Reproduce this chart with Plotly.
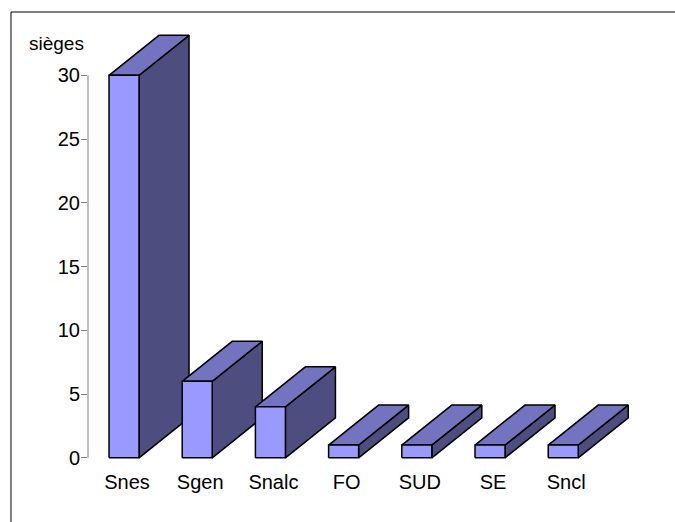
import plotly.graph_objects as go

categories = ["Snes", "Sgen", "Snalc", "FO", "SUD", "SE", "Sncl"]
values = [30, 6, 4, 1, 1, 1, 1]
y_ticks = [0, 5, 10, 15, 20, 25, 30]

# style / geometry constants
BAR_W = 0.41
DX = 0.683
DY = 3.137
FRONT = "#9999FF"
TOP = "#7373BF"
SIDE = "#4D4D7F"
EDGE = dict(color="black", width=1.5)

fig = go.Figure()

for i, v in enumerate(values):
    L, R = i - BAR_W / 2, i + BAR_W / 2
    side_x = [R, R + DX, R + DX, R, R]
    side_y = [0, DY, v + DY, v, 0]
    top_x = [L, R, R + DX, L + DX, L]
    top_y = [v, v, v + DY, v + DY, v]
    front_x = [L, R, R, L, L]
    front_y = [0, 0, v, v, 0]
    for xs, ys, col in ((side_x, side_y, SIDE), (top_x, top_y, TOP), (front_x, front_y, FRONT)):
        fig.add_trace(go.Scatter(x=xs, y=ys, mode="lines", fill="toself",
                                 fillcolor=col, line=EDGE, hoverinfo="skip",
                                 showlegend=False))

fig.update_layout(
    width=675, height=522,
    margin=dict(l=88, r=0, t=32, b=61),
    paper_bgcolor="white", plot_bgcolor="white",
    font=dict(family="Liberation Sans, Arial, sans-serif", color="black", size=20),
    modebar=dict(bgcolor="rgba(0,0,0,0)", color="rgba(0,0,0,0)",
                 activecolor="rgba(0,0,0,0)"),
    xaxis=dict(range=[-0.492, 7.527], tickmode="array",
               tickvals=list(range(len(categories))), ticktext=categories,
               showgrid=False, zeroline=False, showline=False, ticks="",
               ticklabelshift=3, ticklabelstandoff=7, tickfont=dict(size=20)),
    yaxis=dict(range=[-0.25, 33.4], tickmode="array", tickvals=y_ticks,
               ticktext=[str(t) for t in y_ticks],
               showgrid=False, zeroline=False, showline=False,
               ticks="outside", ticklen=6, tickcolor="#808080", tickwidth=1,
               ticklabelstandoff=-3, tickfont=dict(size=20)),
    shapes=[
        dict(type="line", xref="paper", yref="y", x0=0, x1=0, y0=0, y1=30,
             line=dict(color="#808080", width=1)),
        dict(type="line", xref="paper", yref="paper", x0=-0.1312, x1=-0.1312,
             y0=-0.3, y1=1.0466, line=dict(color="black", width=1)),
        dict(type="line", xref="paper", yref="paper", x0=-0.1312, x1=1.1,
             y0=1.0466, y1=1.0466, line=dict(color="black", width=1)),
    ],
    annotations=[
        dict(text="sièges", xref="paper", yref="paper", x=-0.0545, y=0.974,
             xanchor="center", yanchor="middle", showarrow=False,
             font=dict(size=19)),
    ],
)

fig.write_html(
    "out.html",
    config={"displaylogo": False},
    post_script="document.body.style.margin='0';",
)
